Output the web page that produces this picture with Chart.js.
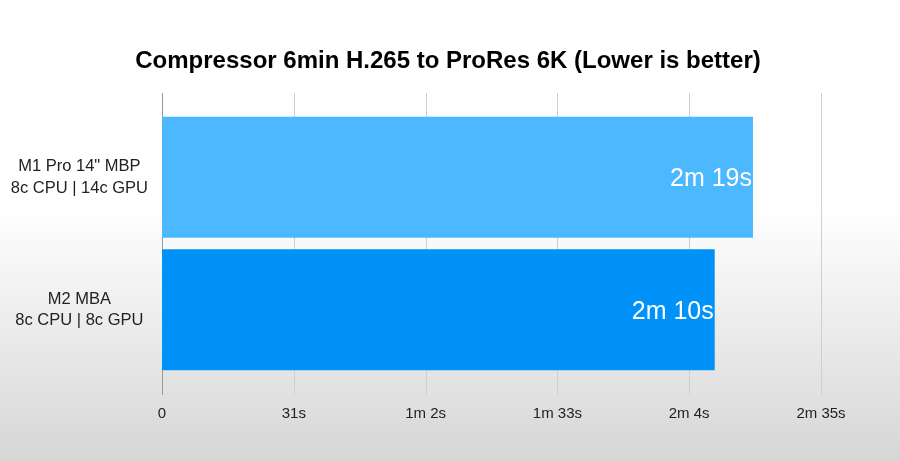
<!DOCTYPE html>
<html>
<head>
<meta charset="utf-8">
<script src="https://cdn.jsdelivr.net/npm/chart.js@4"></script>
<style>
    html, body { margin: 0; padding: 0; }
    body {
        width: 900px;
        height: 461px;
        overflow: hidden;
        background: linear-gradient(to bottom, #ffffff 0%, #ffffff 45%, #d6d6d6 100%);
    }
    canvas { display: block; }
</style>
</head>
<body>
<canvas id="chart" width="900" height="461"></canvas>
<script>
// ---- data ----
const chartTitle = 'Compressor 6min H.265 to ProRes 6K (Lower is better)';
const categories = [
    ['M1 Pro 14" MBP', '8c CPU | 14c GPU'],
    ['M2 MBA', '8c CPU | 8c GPU']
];
const seconds = [139, 130];
const valueLabels = ['2m 19s', '2m 10s'];
const tickValues = [0, 31, 62, 93, 124, 155];
const tickLabels = ['0', '31s', '1m 2s', '1m 33s', '2m 4s', '2m 35s'];

const FONT = '"Liberation Sans", Arial, Helvetica, sans-serif';

// title centred on the whole slide, not on the chart box
const titlePlugin = {
    id: 'slideTitle',
    afterDraw(chart) {
        const ctx = chart.ctx;
        ctx.save();
        ctx.fillStyle = '#000000';
        ctx.font = 'bold 24px ' + FONT;
        ctx.textAlign = 'center';
        ctx.textBaseline = 'middle';
        ctx.fillText(chartTitle, chart.width / 2 - 2, 61);
        ctx.restore();
    }
};

// gridlines run a bit past the plot area, like the original slide
const gridPlugin = {
    id: 'longGrid',
    beforeDatasetsDraw(chart) {
        const ctx = chart.ctx;
        const x = chart.scales.x;
        const top = chart.chartArea.top - 18;
        const bottom = chart.chartArea.bottom + 19;
        ctx.save();
        ctx.lineWidth = 1;
        tickValues.forEach(v => {
            const px = Math.round(x.getPixelForValue(v)) + 0.5;
            ctx.strokeStyle = v === 0 ? '#9a9a9a' : '#cfcfcf';
            ctx.beginPath();
            ctx.moveTo(px, top);
            ctx.lineTo(px, bottom);
            ctx.stroke();
        });
        ctx.restore();
    }
};

// value text inside the end of each bar
const valuePlugin = {
    id: 'valueText',
    afterDatasetsDraw(chart) {
        const ctx = chart.ctx;
        const meta = chart.getDatasetMeta(0);
        ctx.save();
        ctx.fillStyle = '#ffffff';
        ctx.font = '25px ' + FONT;
        ctx.textAlign = 'right';
        ctx.textBaseline = 'middle';
        meta.data.forEach((bar, i) => {
            ctx.fillText(valueLabels[i], bar.x - 1, bar.y + 2);
        });
        ctx.restore();
    }
};

function barColor(context) {
    const chart = context.chart;
    if (context.dataIndex === 0) return '#4cb8ff';
    const area = chart.chartArea;
    if (!area) return '#0092f8';
    const bar = context.element;
    const y0 = bar ? bar.y - bar.height / 2 : area.top;
    const y1 = bar ? bar.y + bar.height / 2 : area.bottom;
    if (!isFinite(y0) || !isFinite(y1)) return '#0092f8';
    const g = chart.ctx.createLinearGradient(0, y0, 0, y1);
    g.addColorStop(0, '#0098ff');
    g.addColorStop(1, '#0686e4');
    return g;
}

new Chart(document.getElementById('chart'), {
    type: 'bar',
    data: {
        labels: categories,
        datasets: [{
            data: seconds,
            backgroundColor: barColor,
            borderWidth: 0,
            categoryPercentage: 1,
            barPercentage: 0.913
        }]
    },
    options: {
        indexAxis: 'y',
        responsive: false,
        animation: false,
        layout: {
            padding: { left: 0, right: 79, top: 111, bottom: 9 }
        },
        plugins: {
            legend: { display: false },
            tooltip: { enabled: false },
            title: { display: false }
        },
        scales: {
            x: {
                min: 0,
                max: 155,
                border: { display: false },
                grid: { display: false, drawTicks: false },
                afterBuildTicks: scale => {
                    scale.ticks = tickValues.map(v => ({ value: v }));
                },
                ticks: {
                    padding: 29,
                    color: '#222222',
                    font: { family: FONT, size: 15 },
                    maxRotation: 0,
                    autoSkip: false,
                    callback: (value, index) => tickLabels[index]
                }
            },
            y: {
                border: { display: false },
                grid: { display: false, drawTicks: false },
                afterFit: scale => { scale.width = 162; },
                ticks: {
                    padding: 14,
                    crossAlign: 'center',
                    color: '#222222',
                    font: { family: FONT, size: 16.5, lineHeight: 1.3 }
                }
            }
        }
    },
    plugins: [gridPlugin, valuePlugin, titlePlugin]
});
</script>
</body>
</html>
